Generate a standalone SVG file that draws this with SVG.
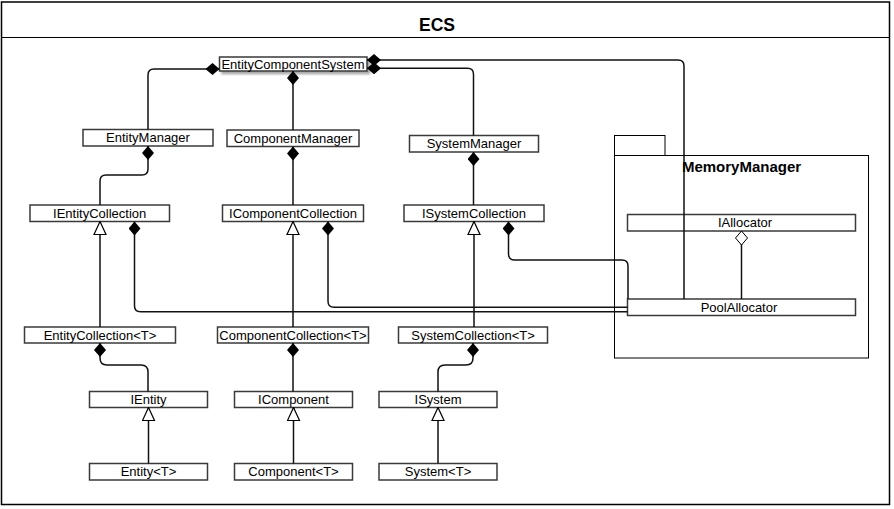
<svg xmlns="http://www.w3.org/2000/svg" width="894" height="509" viewBox="0 0 894 509">
  <style>
    .box { fill: #fff; stroke: #3a3a3a; stroke-width: 1.5; }
    .lbl { font-family: "Liberation Sans", Arial, sans-serif; font-size: 13px; fill: #000; text-anchor: middle; }
    .conn { fill: none; stroke: #111; stroke-width: 1.5; }
    .pkg { fill: #fff; stroke: #000; stroke-width: 1; }
  </style>
  <defs>
    <marker id="comp" viewBox="0 0 14 12" refX="0" refY="6" markerWidth="14" markerHeight="12" markerUnits="userSpaceOnUse" orient="auto">
      <path d="M0,6 L7,0 L14,6 L7,12 Z" fill="#000" stroke="none"/>
    </marker>
    <marker id="agg" viewBox="-1 -1 16 14" refX="0" refY="6" markerWidth="16" markerHeight="14" markerUnits="userSpaceOnUse" orient="auto">
      <path d="M0,6 L7,0 L14,6 L7,12 Z" fill="#fff" stroke="#000" stroke-width="1"/>
    </marker>
    <marker id="inh" viewBox="-1 -1 15 14" refX="13" refY="6" markerWidth="15" markerHeight="14" markerUnits="userSpaceOnUse" orient="auto">
      <path d="M0,0 L13,6 L0,12 Z" fill="#fff" stroke="#000" stroke-width="1.2"/>
    </marker>
    <filter id="shadow" x="-10%" y="-30%" width="120%" height="160%">
      <feDropShadow dx="2.5" dy="2.5" stdDeviation="1" flood-color="#000" flood-opacity="0.35"/>
    </filter>
  </defs>

  <g id="frame">
    <rect x="1.5" y="2" width="888" height="502.5" fill="#fff" stroke="#000" stroke-width="1.5"/>
    <line x1="1.5" y1="37.5" x2="889.5" y2="37.5" stroke="#000" stroke-width="1.2"/>
    <text x="437" y="30.5" font-family="'Liberation Sans', Arial, sans-serif" font-size="17.5" font-weight="bold" text-anchor="middle">ECS</text>
  </g>

  <g id="MemoryManager">
    <rect class="pkg" x="614.5" y="135.5" width="50.5" height="20"/>
    <rect class="pkg" x="614.5" y="155.5" width="254" height="202.5"/>
    <text x="741.5" y="172" font-family="'Liberation Sans', Arial, sans-serif" font-size="15" font-weight="bold" text-anchor="middle">MemoryManager</text>
  </g>

  <g id="EntityComponentSystem">
    <rect class="box" x="219.5" y="57" width="147.5" height="14" filter="url(#shadow)"/>
    <text class="lbl" x="293" y="68.5" font-size="12.5">EntityComponentSystem</text>
  </g>
  <g id="EntityManager">
    <rect class="box" x="83" y="129.5" width="130" height="16.5"/>
    <text class="lbl" x="148" y="142.3">EntityManager</text>
  </g>
  <g id="ComponentManager">
    <rect class="box" x="227" y="130" width="132" height="16.5"/>
    <text class="lbl" x="293" y="142.7">ComponentManager</text>
  </g>
  <g id="SystemManager">
    <rect class="box" x="409.5" y="135.5" width="129" height="16.5"/>
    <text class="lbl" x="474" y="148.2">SystemManager</text>
  </g>
  <g id="IEntityCollection">
    <rect class="box" x="30" y="205" width="139.5" height="16.5"/>
    <text class="lbl" x="99.7" y="217.7">IEntityCollection</text>
  </g>
  <g id="IComponentCollection">
    <rect class="box" x="222.5" y="205" width="141" height="16.5"/>
    <text class="lbl" x="293" y="217.7">IComponentCollection</text>
  </g>
  <g id="ISystemCollection">
    <rect class="box" x="404" y="205" width="140" height="16.5"/>
    <text class="lbl" x="474" y="217.7">ISystemCollection</text>
  </g>
  <g id="EntityCollection">
    <rect class="box" x="24.5" y="327" width="151" height="16"/>
    <text class="lbl" x="100" y="339.5">EntityCollection&lt;T&gt;</text>
  </g>
  <g id="ComponentCollection">
    <rect class="box" x="217.5" y="327" width="151" height="16"/>
    <text class="lbl" x="293" y="339.5">ComponentCollection&lt;T&gt;</text>
  </g>
  <g id="SystemCollection">
    <rect class="box" x="398.5" y="327" width="149" height="16"/>
    <text class="lbl" x="473" y="339.5">SystemCollection&lt;T&gt;</text>
  </g>
  <g id="IEntity">
    <rect class="box" x="89.5" y="391.5" width="118" height="16"/>
    <text class="lbl" x="148.5" y="404">IEntity</text>
  </g>
  <g id="IComponent">
    <rect class="box" x="234.5" y="391.5" width="118" height="16"/>
    <text class="lbl" x="293.5" y="404">IComponent</text>
  </g>
  <g id="ISystem">
    <rect class="box" x="379" y="391.5" width="118" height="16"/>
    <text class="lbl" x="438" y="404">ISystem</text>
  </g>
  <g id="Entity">
    <rect class="box" x="89.5" y="463.5" width="118" height="16.5"/>
    <text class="lbl" x="148.5" y="476.2">Entity&lt;T&gt;</text>
  </g>
  <g id="Component">
    <rect class="box" x="234.5" y="463.5" width="118" height="16.5"/>
    <text class="lbl" x="293.5" y="476.2">Component&lt;T&gt;</text>
  </g>
  <g id="System">
    <rect class="box" x="379" y="463.5" width="118" height="16.5"/>
    <text class="lbl" x="438" y="476.2">System&lt;T&gt;</text>
  </g>
  <g id="IAllocator">
    <rect class="box" x="627.5" y="214.5" width="228" height="16.5"/>
    <text class="lbl" x="745" y="227.2">IAllocator</text>
  </g>
  <g id="PoolAllocator">
    <rect class="box" x="627.5" y="299" width="228" height="16.5"/>
    <text class="lbl" x="739" y="311.7">PoolAllocator</text>
  </g>

  <g id="connectors">
    <path class="conn" marker-start="url(#comp)" d="M219.5,69 H154 Q148,69 148,75 V129.5"/>
    <path class="conn" marker-start="url(#comp)" d="M293,71 V130"/>
    <path class="conn" marker-start="url(#comp)" d="M367,68.3 H467.5 Q473.5,68.3 473.5,74.3 V135.5"/>
    <path class="conn" marker-start="url(#comp)" d="M367,60 H678 Q684,60 684,66 V299"/>
    <path class="conn" marker-start="url(#comp)" d="M148,146 V169 Q148,175 142,175 H106 Q100,175 100,181 V205"/>
    <path class="conn" marker-start="url(#comp)" d="M293,146.5 V205"/>
    <path class="conn" marker-start="url(#comp)" d="M473.5,152 V205"/>
    <path class="conn" marker-end="url(#inh)" d="M100,327 V221.5"/>
    <path class="conn" marker-end="url(#inh)" d="M293,327 V221.5"/>
    <path class="conn" marker-end="url(#inh)" d="M474,327 V221.5"/>
    <path class="conn" marker-start="url(#comp)" d="M134.5,221.5 V305.7 Q134.5,311.7 140.5,311.7 H627.5"/>
    <path class="conn" marker-start="url(#comp)" d="M328,221.5 V301.3 Q328,307.3 334,307.3 H627.5"/>
    <path class="conn" marker-start="url(#comp)" d="M508.5,221.5 V254 Q508.5,260 514.5,260 H622 Q628,260 628,266 V299"/>
    <path class="conn" marker-start="url(#agg)" d="M741.5,231 V299"/>
    <path class="conn" marker-start="url(#comp)" d="M100,343 V358 Q100,365 107,365 H141 Q148,365 148,372 V391.5"/>
    <path class="conn" marker-start="url(#comp)" d="M293,343 V391.5"/>
    <path class="conn" marker-start="url(#comp)" d="M473,343 V358 Q473,365 466,365 H445 Q438,365 438,372 V391.5"/>
    <path class="conn" marker-end="url(#inh)" d="M148.5,463.5 V407.5"/>
    <path class="conn" marker-end="url(#inh)" d="M293.5,463.5 V407.5"/>
    <path class="conn" marker-end="url(#inh)" d="M438,463.5 V407.5"/>
  </g>
</svg>
